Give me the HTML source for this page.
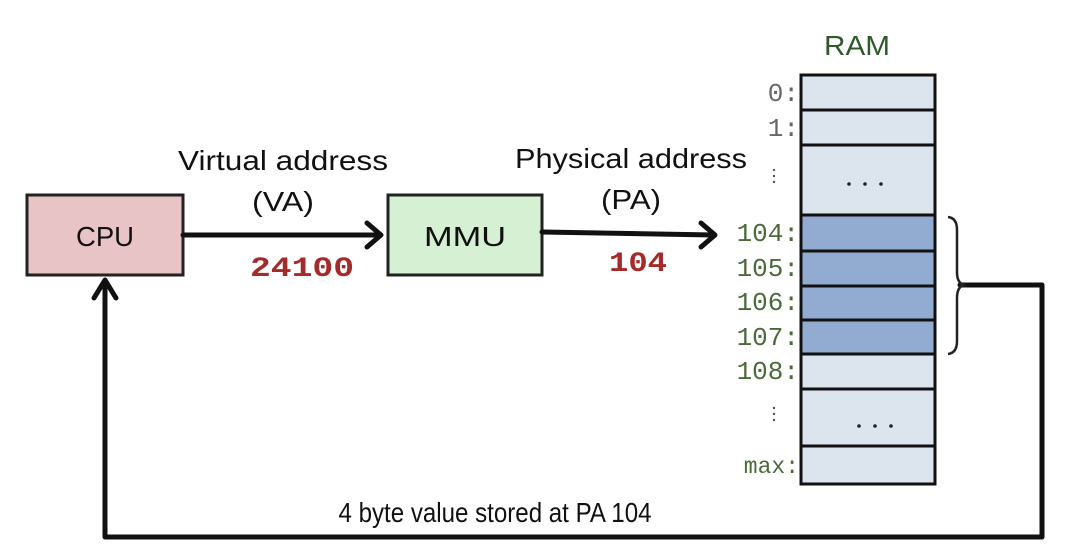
<!DOCTYPE html>
<html><head><meta charset="utf-8"><style>html,body{margin:0;padding:0;background:#fff}svg{display:block}</style></head>
<body>
<svg width="1080" height="558" viewBox="0 0 1080 558" xmlns="http://www.w3.org/2000/svg">
<rect width="1080" height="558" fill="#fff"/>
<!-- CPU -->
<rect x="27" y="195" width="156" height="80" fill="#e8c4c6" stroke="#222" stroke-width="3"/>
<text x="105" y="246" font-family="Liberation Sans, sans-serif" font-size="28" text-anchor="middle" fill="#111" textLength="58" lengthAdjust="spacingAndGlyphs">CPU</text>
<!-- MMU -->
<rect x="388" y="195" width="154" height="80" fill="#d5f0d2" stroke="#222" stroke-width="3"/>
<text x="465" y="246" font-family="Liberation Sans, sans-serif" font-size="28" text-anchor="middle" fill="#111" textLength="82" lengthAdjust="spacingAndGlyphs">MMU</text>
<!-- labels -->
<g font-family="Liberation Sans, sans-serif" font-size="28" fill="#111" text-anchor="middle">
<text x="283" y="170" textLength="210" lengthAdjust="spacingAndGlyphs">Virtual address</text>
<text x="283" y="211" textLength="62" lengthAdjust="spacingAndGlyphs">(VA)</text>
<text x="631" y="168" textLength="232" lengthAdjust="spacingAndGlyphs">Physical address</text>
<text x="631" y="209" textLength="60" lengthAdjust="spacingAndGlyphs">(PA)</text>
<text x="495" y="522" textLength="313" lengthAdjust="spacingAndGlyphs">4 byte value stored at PA 104</text>
</g>
<g font-family="Liberation Mono, monospace" font-size="28" font-weight="bold" fill="#a52a2a" text-anchor="middle">
<text x="302" y="276" textLength="104" lengthAdjust="spacingAndGlyphs">24100</text>
<text x="638" y="271" textLength="58" lengthAdjust="spacingAndGlyphs">104</text>
</g>
<!-- arrows -->
<g stroke="#111" stroke-width="5" fill="none" stroke-linecap="round" stroke-linejoin="round">
<line x1="183" y1="235" x2="380" y2="235"/>
<polyline points="367,223 381,235 367,247"/>
<line x1="542" y1="232" x2="714" y2="235"/>
<polyline points="701,223 715,235 701,247"/>
<polyline points="960,285 1042,285 1042,537 105,537 105,281"/>
<polyline points="94,298 105,280 116,298"/>
</g>
<!-- brace -->
<path d="M948,217 Q957,218 957,230 L957,272 Q957,284 965,285 Q957,286 957,298 L957,341 Q957,353 948,354" stroke="#222" stroke-width="2.5" fill="none"/>
<!-- RAM -->
<text x="857" y="55" font-family="Liberation Sans, sans-serif" font-size="28" fill="#2e5a2a" text-anchor="middle" textLength="66" lengthAdjust="spacingAndGlyphs">RAM</text>
<g stroke="#111" stroke-width="3">
<rect x="801" y="75" width="134" height="35" fill="#dce4ee"/>
<rect x="801" y="110" width="134" height="35" fill="#dce4ee"/>
<rect x="801" y="145" width="134" height="70" fill="#dce4ee"/>
<rect x="801" y="215" width="134" height="36" fill="#92abd0"/>
<rect x="801" y="251" width="134" height="35" fill="#92abd0"/>
<rect x="801" y="286" width="134" height="34" fill="#92abd0"/>
<rect x="801" y="320" width="134" height="34" fill="#92abd0"/>
<rect x="801" y="354" width="134" height="35" fill="#dce4ee"/>
<rect x="801" y="389" width="134" height="57" fill="#dce4ee"/>
<rect x="801" y="446" width="134" height="38" fill="#dce4ee"/>
</g>
<g font-family="Liberation Mono, monospace" font-size="26" text-anchor="end">
<text x="799" y="101" fill="#666">0:</text>
<text x="799" y="136" fill="#666">1:</text>
<text x="799" y="241" fill="#4a6a3a">104:</text>
<text x="799" y="276" fill="#4a6a3a">105:</text>
<text x="799" y="310" fill="#4a6a3a">106:</text>
<text x="799" y="345" fill="#4a6a3a">107:</text>
<text x="799" y="379" fill="#4a6a3a">108:</text>
<text x="799" y="473" fill="#4a6a3a" font-size="23">max:</text>
</g>
<g fill="#555">
<circle cx="774" cy="170" r="1.2"/><circle cx="774" cy="176" r="1.2"/><circle cx="774" cy="182" r="1.2"/>
<circle cx="774" cy="408" r="1.2"/><circle cx="774" cy="414" r="1.2"/><circle cx="774" cy="420" r="1.2"/>
</g>
<g fill="#222">
<circle cx="849" cy="184" r="1.8"/><circle cx="865" cy="184" r="1.8"/><circle cx="881" cy="184" r="1.8"/>
<circle cx="859" cy="426" r="1.8"/><circle cx="875" cy="426" r="1.8"/><circle cx="891" cy="426" r="1.8"/>
</g>
</svg>
</body></html>
